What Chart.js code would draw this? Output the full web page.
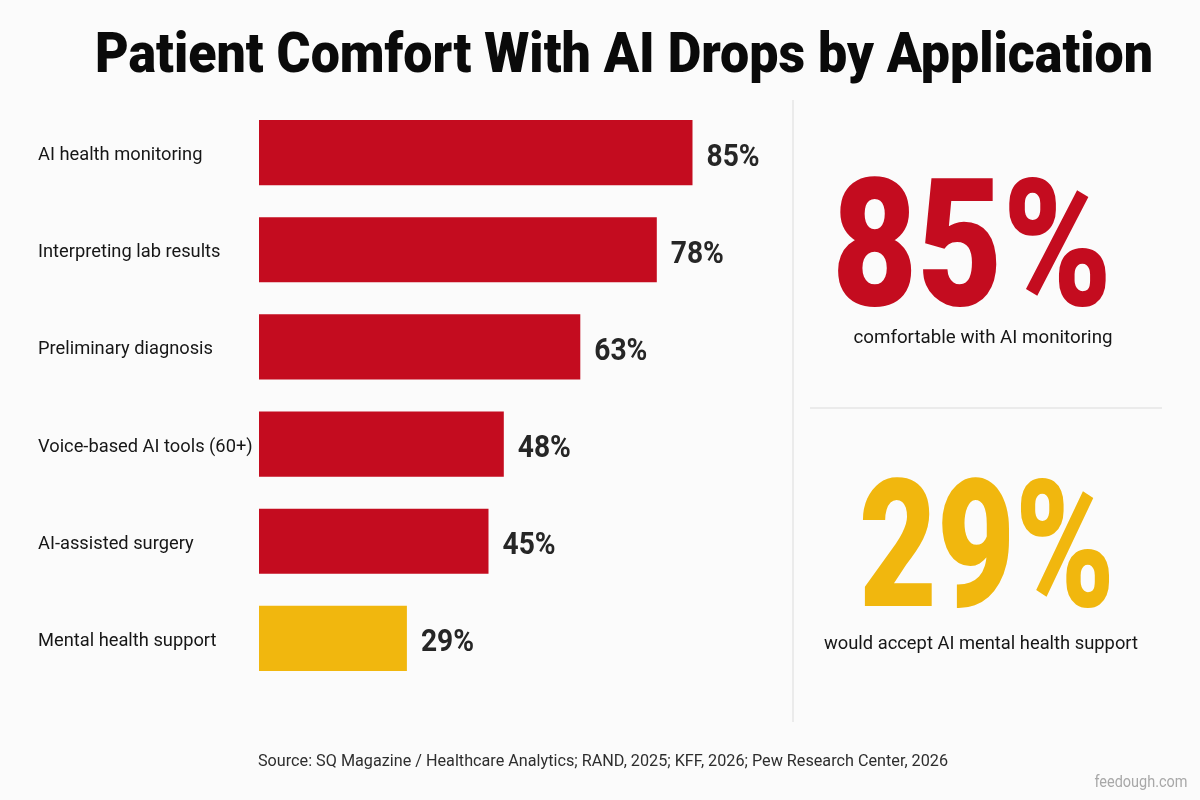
<!DOCTYPE html>
<html>
<head>
<meta charset="utf-8">
<title>Patient Comfort With AI Drops by Application</title>
<script src="https://cdn.jsdelivr.net/npm/chart.js@4/dist/chart.umd.min.js"></script>
<style>
  html, body { margin: 0; padding: 0; background: #fbfbfb; }
  canvas { display: block; }
</style>
</head>
<body>
<canvas id="comfortChart" width="1200" height="800"></canvas>
<script>
const chartTitle = 'Patient Comfort With AI Drops by Application';
const categories = [
    'AI health monitoring',
    'Interpreting lab results',
    'Preliminary diagnosis',
    'Voice-based AI tools (60+)',
    'AI-assisted surgery',
    'Mental health support',
];
const comfortValues = [85, 78, 63, 48, 45, 29];
const highlightCategory = 'Mental health support';
const statValues = [85, 29];
const statCaptions = ['comfortable with AI monitoring', 'would accept AI mental health support'];
const sourceNote = 'Source: SQ Magazine / Healthcare Analytics; RAND, 2025; KFF, 2026; Pew Research Center, 2026';
const watermark = 'feedough.com';

const RED = '#c40c1f';
const YELLOW = '#f1b70e';
const INK = '#161616';

const barColors = categories.map((c) => (c === highlightCategory ? YELLOW : RED));

// draw text squeezed horizontally to a given width (condensed look)
const drawFitted = (ctx, text, cx, baseline, font, width, color) => {
    ctx.save();
    ctx.font = font;
    ctx.fillStyle = color;
    ctx.textAlign = 'left';
    ctx.textBaseline = 'alphabetic';
    const w = ctx.measureText(text).width;
    const sx = width / w;
    ctx.translate(cx - width / 2, baseline);
    ctx.scale(sx, 1);
    ctx.fillText(text, 0, 0);
    ctx.restore();
};

const backgroundPlugin = {
    id: 'background',
    beforeDraw(chart) {
        const { ctx, width, height } = chart;
        ctx.save();
        ctx.fillStyle = '#fbfbfb';
        ctx.fillRect(0, 0, width, height);
        ctx.restore();
    },
};

const valueLabels = {
    id: 'valueLabels',
    afterDatasetsDraw(chart) {
        const { ctx } = chart;
        const meta = chart.getDatasetMeta(0);
        meta.data.forEach((bar, i) => {
            const text = comfortValues[i] + '%';
            ctx.save();
            ctx.font = 'bold 32px Roboto, "Liberation Sans", sans-serif';
            const w = ctx.measureText(text).width * 0.88;
            ctx.restore();
            drawFitted(ctx, text, bar.x + 14 + w / 2, bar.y + 13, 'bold 32px Roboto, "Liberation Sans", sans-serif', w, '#262626');
        });
    },
};

const sidePanel = {
    id: 'sidePanel',
    afterDraw(chart) {
        const { ctx } = chart;
        // title
        drawFitted(ctx, chartTitle, 624, 72, '900 56px Roboto, "Liberation Sans", sans-serif', 1058, '#0a0a0a');

        // dividers
        ctx.save();
        ctx.strokeStyle = '#e6e6e6';
        ctx.lineWidth = 1.5;
        ctx.beginPath();
        ctx.moveTo(793, 100);
        ctx.lineTo(793, 722);
        ctx.moveTo(810, 408);
        ctx.lineTo(1162, 408);
        ctx.stroke();
        ctx.restore();

        // big stats
        drawFitted(ctx, statValues[0] + '%', 972, 305, '900 178px Roboto, "Liberation Sans", sans-serif', 280, RED);
        drawFitted(ctx, statCaptions[0], 983, 343, '19px Roboto, "Liberation Sans", sans-serif', 259, INK);
        drawFitted(ctx, statValues[1] + '%', 987, 606, '900 178px Roboto, "Liberation Sans", sans-serif', 256, YELLOW);
        drawFitted(ctx, statCaptions[1], 981, 649, '19px Roboto, "Liberation Sans", sans-serif', 314, INK);

        // footer
        drawFitted(ctx, sourceNote, 603, 766, '16px Roboto, "Liberation Sans", sans-serif', 690, '#2e2e2e');
        drawFitted(ctx, watermark, 1141, 787, '16px Roboto, "Liberation Sans", sans-serif', 93, '#a8a8a8');
    },
};

new Chart(document.getElementById('comfortChart'), {
    type: 'bar',
    data: {
        labels: categories,
        datasets: [
            {
                data: comfortValues,
                backgroundColor: barColors,
                borderWidth: 0,
                barPercentage: 0.67,
                categoryPercentage: 1,
            },
        ],
    },
    options: {
        indexAxis: 'y',
        responsive: false,
        animation: false,
        devicePixelRatio: 1,
        layout: { padding: { left: 38, right: 431, top: 104, bottom: 113 } },
        plugins: {
            legend: { display: false },
            tooltip: { enabled: false },
            title: { display: false },
        },
        scales: {
            x: { min: 0, max: 100, display: false },
            y: {
                grid: { display: false },
                border: { display: false },
                ticks: {
                    crossAlign: 'far',
                    padding: 0,
                    labelOffset: 3,
                    color: INK,
                    font: { family: 'Roboto, "Liberation Sans", sans-serif', size: 18.3 },
                },
                afterFit(scale) {
                    scale.width = 221;
                },
            },
        },
    },
    plugins: [backgroundPlugin, valueLabels, sidePanel],
});
</script>
</body>
</html>
